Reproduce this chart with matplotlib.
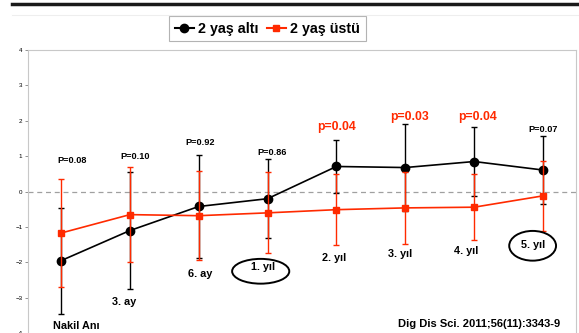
import matplotlib
matplotlib.use("Agg")
import matplotlib.pyplot as plt
from matplotlib.lines import Line2D
from matplotlib.patches import Ellipse

plt.rcParams['font.family'] = ['Liberation Sans', 'DejaVu Sans']

# time points
labels = ['Nakil Anı', '3. ay', '6. ay', '1. yıl', '2. yıl', '3. yıl', '4. yıl', '5. yıl']

# 2 yas alti (black)
alti_mean = [-1.95, -1.10, -0.42, -0.20, 0.71, 0.68, 0.85, 0.61]
alti_err = [1.50, 1.65, 1.45, 1.12, 0.75, 1.22, 0.98, 0.95]

# 2 yas ustu (red)
ustu_mean = [-1.17, -0.65, -0.68, -0.60, -0.51, -0.46, -0.44, -0.12]
ustu_err = [1.53, 1.34, 1.25, 1.14, 1.01, 1.01, 0.94, 0.98]

p_texts = ['P=0.08', 'P=0.10', 'P=0.92', 'P=0.86', 'p=0.04', 'p=0.03', 'p=0.04', 'P=0.07']
p_sig = [False, False, False, False, True, True, True, False]
p_y = [0.88, 1.00, 1.38, 1.11, 1.82, 2.10, 2.10, 1.76]
p_dx = [0.16, 0.07, 0.02, 0.06, 0.0, 0.06, 0.05, 0.0]

label_y = [-3.80, -3.11, -2.33, -2.13, -1.88, -1.77, -1.67, -1.52]
label_dx = [0.22, -0.09, 0.02, -0.07, -0.04, -0.07, -0.12, -0.15]

red = '#ff2a00'

fig = plt.figure(figsize=(5.79, 3.33), dpi=100)
ax = fig.add_axes([28 / 579, -2 / 333, 548 / 579, 285 / 333])

x = list(range(len(labels)))

ax.axhline(0, color='#a0a0a0', lw=0.9, ls=(0, (4, 3)), zorder=1)

ax.errorbar(x, alti_mean, yerr=alti_err, color='black', lw=1.2, marker='o',
            markersize=6, elinewidth=1.0, capsize=2.5, capthick=1.0, zorder=3)
ax.errorbar(x, ustu_mean, yerr=ustu_err, color=red, lw=1.2, marker='s',
            markersize=5, elinewidth=1.0, capsize=2.5, capthick=1.0, zorder=4)

for i, t in enumerate(p_texts):
    if p_sig[i]:
        ax.text(x[i] + p_dx[i], p_y[i], t, color=red, fontsize=8.8,
                fontweight='bold', ha='center', va='center')
    else:
        ax.text(x[i] + p_dx[i], p_y[i], t, color='black', fontsize=6.6,
                fontweight='bold', ha='center', va='center')

for i, t in enumerate(labels):
    ax.text(x[i] + label_dx[i], label_y[i], t, color='black', fontsize=7.8,
            fontweight='bold', ha='center', va='center')

# circled time points
ax.add_patch(Ellipse((2.9, -2.25), 0.83, 0.70, fill=False, ec='black', lw=1.4, zorder=5))
ax.add_patch(Ellipse((6.85, -1.53), 0.68, 0.84, fill=False, ec='black', lw=1.4, zorder=5))

ax.set_xlim(-0.48, 7.48)
ax.set_ylim(-4.05, 4)
ax.set_yticks([-4, -3, -2, -1, 0, 1, 2, 3, 4])
ax.set_xticks([])
ax.tick_params(axis='y', labelsize=4.5, length=2, width=0.6, color='#808080', pad=2)
for s in ax.spines.values():
    s.set_color('#c8c8c8')
    s.set_linewidth(0.8)

handles = [Line2D([], [], color='black', lw=1.5, marker='o', markersize=6),
           Line2D([], [], color=red, lw=1.5, marker='s', markersize=5)]
leg = ax.legend(handles, ['2 yaş altı', '2 yaş üstü'], loc='upper center',
                bbox_to_anchor=((267.5 - 28) / 548, 1.12), ncol=2,
                prop={'weight': 'bold', 'size': 10.3}, frameon=True, fancybox=False,
                handlelength=1.3, handletextpad=0.3, columnspacing=0.6,
                borderpad=0.4, borderaxespad=0)
leg.get_frame().set_edgecolor('#a0a0a0')
leg.get_frame().set_linewidth(0.8)

fig.text(398 / 579, 1 - 324 / 333, 'Dig Dis Sci. 2011;56(11):3343-9', fontsize=8,
         fontweight='bold', ha='left', va='center')

# header rules
fig.add_artist(Line2D([12 / 579, 1], [1 - 4 / 333, 1 - 4 / 333], color='#1a1a1a', lw=2.5))
fig.add_artist(Line2D([12 / 579, 1], [1 - 15 / 333, 1 - 15 / 333], color='#eeeeee', lw=0.8))

fig.savefig('out.png', dpi=100)
